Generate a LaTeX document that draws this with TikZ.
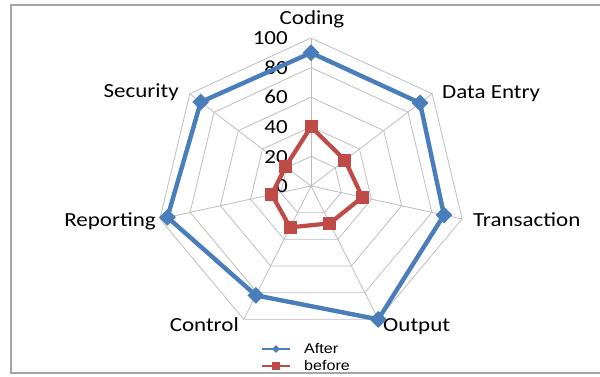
\documentclass[tikz,border=0pt]{standalone}
\usepackage{fontspec}
\setmainfont{Carlito}[FakeStretch=1.15]
\newfontfamily\legendfont{Liberation Sans}[FakeStretch=1.15]
\usetikzlibrary{shapes.geometric}
\definecolor{afterblue}{HTML}{4A7EBB}
\definecolor{beforered}{HTML}{BE4B48}
\definecolor{gridgray}{HTML}{BDBDBD}
\definecolor{framegray}{HTML}{A6A6A6}
\tikzset{
  gridline/.style={draw=gridgray, line width=0.8pt},
  afterline/.style={draw=afterblue, line width=4.4pt, line join=round},
  beforeline/.style={draw=beforered, line width=4.2pt, line join=round},
  aftermark/.style={diamond, fill=afterblue, inner sep=0pt, minimum width=17pt, minimum height=17pt},
  beforemark/.style={rectangle, fill=beforered, inner sep=0pt, minimum size=13pt},
  axislabel/.style={font=\fontsize{20}{24}\selectfont, inner sep=0pt},
  ticklabel/.style={font=\fontsize{20}{24}\selectfont, inner sep=0pt, anchor=base east},
  legendtext/.style={font=\legendfont\fontsize{14}{16}\selectfont, inner sep=0pt, anchor=west}
}
\begin{document}
\begin{tikzpicture}[x=1pt,y=-1pt]
\useasboundingbox (0,0) rectangle (600,376);
\draw[framegray, line width=2pt] (11,5) rectangle (606,373);
% grid
\coordinate (ctr) at (311,186);
\foreach \r in {20,40,60,80,100}{
  \foreach \k in {0,...,6}{
    \coordinate (g\r-\k) at ({311+1.55*\r*cos(90-\k*360/7)},{186-1.48*\r*sin(90-\k*360/7)});
  }
  \draw[gridline] (g\r-0) -- (g\r-1) -- (g\r-2) -- (g\r-3) -- (g\r-4) -- (g\r-5) -- (g\r-6) -- cycle;
}
\foreach \k in {0,...,6}{
  \draw[gridline] (ctr) -- (g100-\k);
}
% tick labels
\foreach \t in {0,20,40,60,80,100}{
  \node[ticklabel] (t\t) at ({288},{186-1.48*\t+6.6}) {\t};
}
% axis labels
\node[axislabel, anchor=base] (lcoding) at (312,24) {Coding};
\node[axislabel, anchor=base west] (ldata) at (442,98) {Data Entry};
\node[axislabel, anchor=base west] (ltrans) at (473,226.5) {Transaction};
\node[axislabel, anchor=base west] (lout) at (383,331.5) {Output};
\node[axislabel, anchor=base east] (lcontrol) at (239,331.5) {Control};
\node[axislabel, anchor=base east] (lrep) at (156,226.5) {Reporting};
\node[axislabel, anchor=base east] (lsec) at (179,97) {Security};
% before series
\foreach \k/\v in {0/40,1/28,2/34,3/28,4/31,5/26,6/21}{
  \coordinate (b\k) at ({311+1.55*\v*cos(90-\k*360/7)},{186-1.48*\v*sin(90-\k*360/7)});
}
\draw[beforeline] (b0) -- (b1) -- (b2) -- (b3) -- (b4) -- (b5) -- (b6) -- cycle;
\foreach \k in {0,...,6}{ \node[beforemark] (bm\k) at (b\k) {}; }
% after series
\foreach \k/\v in {0/90,1/90,2/88,3/100,4/82,5/95,6/91}{
  \coordinate (a\k) at ({311+1.55*\v*cos(90-\k*360/7)},{186-1.48*\v*sin(90-\k*360/7)});
}
\draw[afterline] (a0) -- (a1) -- (a2) -- (a3) -- (a4) -- (a5) -- (a6) -- cycle;
\foreach \k in {0,...,6}{ \node[aftermark] (am\k) at (a\k) {}; }
% legend
\coordinate (la1) at (262,349);
\coordinate (la2) at (290,349);
\draw[draw=afterblue, line width=2.2pt] (la1) -- (la2);
\node[diamond, fill=afterblue, inner sep=0pt, minimum width=8pt, minimum height=8pt] (lam) at (276,349) {};
\node[legendtext] (lafter) at (304,348) {After};
\coordinate (lb1) at (262,366);
\coordinate (lb2) at (290,366);
\draw[draw=beforered, line width=2.2pt] (lb1) -- (lb2);
\node[rectangle, fill=beforered, inner sep=0pt, minimum size=8pt] (lbm) at (276,366) {};
\node[legendtext] (lbefore) at (304,365) {before};
\end{tikzpicture}
\end{document}
